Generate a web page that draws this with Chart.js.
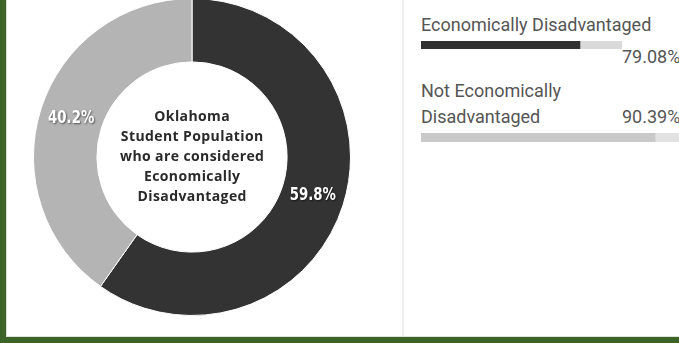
<!DOCTYPE html>
<html>
<head>
<meta charset="utf-8">
<script src="https://cdn.jsdelivr.net/npm/chart.js@4/dist/chart.umd.min.js"></script>
<style>
  html, body { margin: 0; padding: 0; }
  body { width: 679px; height: 343px; position: relative; overflow: hidden; background: #ffffff; font-family: Roboto, sans-serif; }
  .frame-left { position: absolute; left: 0; top: 0; width: 6px; height: 343px; background: #3c6428; }
  .frame-bottom { position: absolute; left: 0; top: 337px; width: 679px; height: 6px; background: #3c6428; }
  .edge-left { position: absolute; left: 6px; top: 0; width: 1px; height: 337px; background: #d8dcd4; }
  .edge-bottom { position: absolute; left: 6px; top: 336px; width: 673px; height: 1px; background: #dfe3da; }
  .divider { position: absolute; left: 402px; top: 0; width: 2px; height: 336px; background: #f0f0f0; }
  #donutBox { position: absolute; left: 33px; top: -2px; width: 318px; height: 318px; }
  .txt { position: absolute; color: #555555; font-size: 18px; line-height: 1; white-space: nowrap; }
  .bar { position: absolute; }
</style>
</head>
<body>
<div class="frame-left"></div>
<div class="edge-left"></div>
<div class="divider"></div>
<div id="donutBox"><canvas id="donut"></canvas></div>

<div class="txt" id="label0" style="left:421px; top:16px;"></div>
<div class="bar" style="left:421px; top:41px; width:201px; height:8px;"><canvas id="bar0"></canvas></div>
<div class="txt" id="value0" style="left:622px; top:48px;"></div>

<div class="txt" id="label1a" style="left:421px; top:82px;"></div>
<div class="txt" id="label1b" style="left:421px; top:108px;"></div>
<div class="txt" id="value1" style="left:622px; top:108px;"></div>
<div class="bar" style="left:421px; top:133px; width:259px; height:9px;"><canvas id="bar1"></canvas></div>

<div class="edge-bottom"></div>
<div class="frame-bottom"></div>

<script>
// Share of Oklahoma students by economic status (percent)
const sliceLabels = ['Economically Disadvantaged', 'Not Economically Disadvantaged'];
const sliceValues = [59.8, 40.2];
const sliceColors = ['#333333', '#b4b4b4'];

// Caption shown in the hole of the ring
const centerLines = ['Oklahoma', 'Student Population', 'who are considered', 'Economically', 'Disadvantaged'];

// Progress bars on the right
const barLabels = [['Economically Disadvantaged'], ['Not Economically', 'Disadvantaged']];
const barValues = [79.08, 90.39];
const barFill = ['#303030', '#c9c9c9'];
const barTrack = ['#dadada', '#e2e2e2'];

const fmt = v => v.toFixed(2) + '%';

// Percent labels placed on each arc, plus the centre caption
const donutText = {
  id: 'donutText',
  afterDatasetsDraw(chart) {
    const ctx = chart.ctx;
    const meta = chart.getDatasetMeta(0);
    meta.data.forEach((arc, i) => {
      const p = arc.tooltipPosition();
      ctx.save();
      ctx.translate(p.x, p.y);
      ctx.scale(0.74, 1); // narrow, poster-style digits
      ctx.font = 'bold 18px "DejaVu Sans", sans-serif';
      ctx.textAlign = 'center';
      ctx.textBaseline = 'middle';
      ctx.fillStyle = '#ffffff';
      ctx.shadowColor = 'rgba(0,0,0,0.55)';
      ctx.shadowBlur = 2;
      ctx.shadowOffsetX = 1;
      ctx.shadowOffsetY = 1;
      ctx.fillText(sliceValues[i].toFixed(1) + '%', 0, 0);
      ctx.restore();
    });

    const cx = (chart.chartArea.left + chart.chartArea.right) / 2;
    const cy = (chart.chartArea.top + chart.chartArea.bottom) / 2;
    ctx.save();
    ctx.font = 'bold 14px "Open Sans", sans-serif';
    ctx.letterSpacing = '0.4px';
    ctx.textAlign = 'center';
    ctx.textBaseline = 'middle';
    ctx.fillStyle = '#2a2a2a';
    const lh = 20;
    const y0 = cy - lh * (centerLines.length - 1) / 2;
    centerLines.forEach((line, i) => ctx.fillText(line, cx + 0.2, y0 + i * lh));
    ctx.restore();
  }
};

new Chart(document.getElementById('donut'), {
  type: 'doughnut',
  data: {
    labels: sliceLabels,
    datasets: [{
      data: sliceValues,
      backgroundColor: sliceColors,
      borderColor: '#ffffff',
      borderWidth: 1,
      hoverOffset: 0
    }]
  },
  options: {
    responsive: true,
    maintainAspectRatio: false,
    animation: false,
    cutout: '60%',
    layout: { padding: 0 },
    plugins: { legend: { display: false }, tooltip: { enabled: false } }
  },
  plugins: [donutText]
});

// One slim horizontal bar per row: value on top of a 0-100 track
function progressBar(id, i) {
  new Chart(document.getElementById(id), {
    type: 'bar',
    data: {
      labels: [barLabels[i].join(' ')],
      datasets: [
        { data: [barValues[i]], backgroundColor: barFill[i], borderWidth: 0 },
        { data: [100 - barValues[i]], backgroundColor: barTrack[i], borderWidth: 0 }
      ]
    },
    options: {
      indexAxis: 'y',
      responsive: true,
      maintainAspectRatio: false,
      animation: false,
      layout: { padding: 0 },
      datasets: { bar: { barPercentage: 1, categoryPercentage: 1 } },
      scales: {
        x: { stacked: true, min: 0, max: 100, display: false },
        y: { stacked: true, display: false }
      },
      plugins: { legend: { display: false }, tooltip: { enabled: false } }
    }
  });
}

document.getElementById('label0').textContent = barLabels[0][0];
document.getElementById('value0').textContent = fmt(barValues[0]);
document.getElementById('label1a').textContent = barLabels[1][0];
document.getElementById('label1b').textContent = barLabels[1][1];
document.getElementById('value1').textContent = fmt(barValues[1]);
progressBar('bar0', 0);
progressBar('bar1', 1);
</script>
</body>
</html>
